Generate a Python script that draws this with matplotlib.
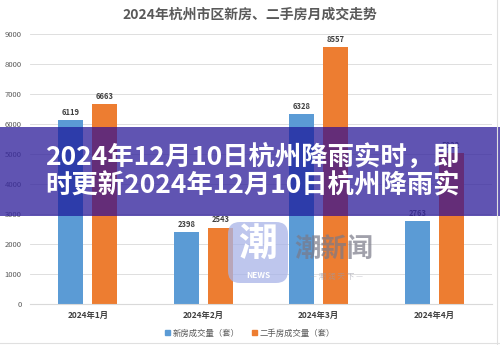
import matplotlib as mpl
mpl.use('Agg')
import matplotlib.pyplot as plt
from matplotlib.patches import Rectangle, FancyBboxPatch
from matplotlib.lines import Line2D
import numpy as np

plt.rcParams['font.family'] = ['Noto Sans CJK SC', 'DejaVu Sans']

# monthly deals, Hangzhou urban districts
months = ['2024年1月', '2024年2月', '2024年3月', '2024年4月']
new_homes = [6119, 2398, 6328, 2763]
resale_homes = [6663, 2543, 8557, 5022]
series_names = ['新房成交量（套）', '二手房成交量（套）']
y_ticks = [0, 1000, 2000, 3000, 4000, 5000, 6000, 7000, 8000, 9000]

title = '2024年杭州市区新房、二手房月成交走势'
headline = ['2024年12月10日杭州降雨实时，即', '时更新2024年12月10日杭州降雨实']

blue = '#5B9BD5'
orange = '#ED7D31'
W, H = 500.0, 345.0

fig = plt.figure(figsize=(5, 3.45), dpi=100)
ax = fig.add_axes([30 / W, 1 - 304 / H, 462 / W, 270 / H])

x = np.arange(len(months))
off = 0.147
bw = 0.216
ax.bar(x - off, new_homes, bw, color=blue, zorder=2)
ax.bar(x + off, resale_homes, bw, color=orange, zorder=2)

for xs, vals in ((x - off, new_homes), (x + off, resale_homes)):
	for xi, v in zip(xs, vals):
		ax.annotate(str(v), (xi, v), xytext=(0, 5.8), textcoords='offset points',
			ha='center', va='center', fontsize=5.5, fontweight='bold',
			color='#404040', zorder=3)

ax.set_xlim(-0.5, 3.5)
ax.set_ylim(0, 9000)
ax.set_yticks(y_ticks)
ax.set_xticks(x)
ax.set_xticklabels(months, fontsize=6, color='#404040', fontweight='bold')
ax.tick_params(axis='y', length=0, pad=6, labelsize=5.5, labelcolor='#595959')
ax.tick_params(axis='x', length=0, pad=5)
for s in ['top', 'left', 'right']:
	ax.spines[s].set_visible(False)
ax.spines['bottom'].set_color('#D9D9D9')
ax.spines['bottom'].set_linewidth(0.8)
ax.grid(axis='y', color='#D9D9D9', lw=0.6, zorder=0)
ax.set_axisbelow(True)

fig.text(0.5, 1 - 15 / H, title, ha='center', va='center', fontsize=10,
	fontweight='bold', color='#595959')

# legend
handles = [Rectangle((0, 0), 1, 1, color=blue), Rectangle((0, 0), 1, 1, color=orange)]
fig.legend(handles, series_names, loc='center', bbox_to_anchor=(0.5, 1 - 333 / H),
	ncol=2, frameon=False, fontsize=6, handlelength=0.6, handleheight=0.6,
	handletextpad=0.3, columnspacing=1.5, labelcolor='#595959')

# translucent headline band
band = Rectangle((0, 1 - 216 / H), 1, 89 / H, transform=fig.transFigure,
	facecolor='#38299F', edgecolor='none', alpha=0.8, zorder=5, clip_on=False)
ax.add_patch(band)
dark_new = ax.bar(x - off, new_homes, bw, color='#2D3CAA', zorder=6)
dark_resale = ax.bar(x + off, resale_homes, bw, color='#642D78', zorder=6)
for p in list(dark_new) + list(dark_resale):
	p.set_clip_path(band)

fig.text(0.505, 1 - 157 / H, headline[0], ha='center', va='center', fontsize=19,
	fontweight='bold', color='white', zorder=10)
fig.text(0.505, 1 - 185 / H, headline[1], ha='center', va='center', fontsize=19,
	fontweight='bold', color='white', zorder=10)

# news watermark
icon = FancyBboxPatch((2.28, 0.62), 0.6, 0.61, boxstyle='round,pad=0,rounding_size=0.12',
	transform=fig.dpi_scale_trans, facecolor='#A8B4E8', edgecolor='none', alpha=0.75, zorder=8)
fig.add_artist(icon)
fig.text(258 / W, 1 - 244 / H, '潮', ha='center', va='center', fontsize=28,
	fontweight='bold', color='white', zorder=9)
fig.text(258 / W, 1 - 276 / H, 'NEWS', ha='center', va='center', fontsize=6,
	fontweight='bold', color='white', zorder=9)
fig.text(334 / W, 1 - 249 / H, '潮新闻', ha='center', va='center', fontsize=19,
	fontweight='bold', color='#7A7A88', alpha=0.7, zorder=9)
fig.text(337 / W, 1 - 277 / H, '— 潮 润 天 下 —', ha='center', va='center', fontsize=5.5,
	color='#9A9AA8', alpha=0.6, zorder=9)

# thin frame at bottom and right
fig.add_artist(Line2D([0, 1], [2 / H, 2 / H], transform=fig.transFigure, color='#E0E0E0', lw=0.8))
fig.add_artist(Line2D([1 - 3 / W, 1 - 3 / W], [0, 1], transform=fig.transFigure, color='#E0E0E0', lw=0.8))

fig.savefig('out.png', dpi=100)
